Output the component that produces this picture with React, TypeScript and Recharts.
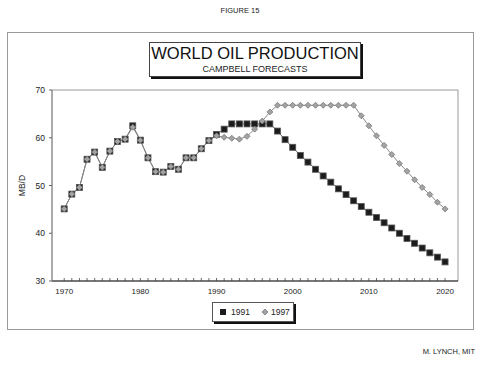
import { LineChart, Line, XAxis, YAxis, ReferenceArea, Legend } from 'recharts';

// years along the x axis
const years = [
    1970, 1971, 1972, 1973, 1974, 1975, 1976, 1977, 1978, 1979,
    1980, 1981, 1982, 1983, 1984, 1985, 1986, 1987, 1988, 1989,
    1990, 1991, 1992, 1993, 1994, 1995, 1996, 1997, 1998, 1999,
    2000, 2001, 2002, 2003, 2004, 2005, 2006, 2007, 2008, 2009,
    2010, 2011, 2012, 2013, 2014, 2015, 2016, 2017, 2018, 2019,
    2020,
];

// Campbell 1991 forecast (MB/D)
const prod1991 = [
    45.1, 48.2, 49.6, 55.5, 57.0, 53.8, 57.2, 59.2, 59.7, 62.5,
    59.5, 55.8, 52.9, 52.8, 54.0, 53.4, 55.8, 55.8, 57.7, 59.4,
    60.7, 61.8, 62.9, 62.9, 62.9, 62.9, 62.9, 62.9, 61.4, 59.6,
    58.0, 56.3, 54.9, 53.4, 52.0, 50.7, 49.3, 48.1, 46.8, 45.6,
    44.4, 43.3, 42.2, 41.1, 40.0, 38.9, 37.9, 36.9, 35.9, 35.0,
    34.0,
];

// Campbell 1997 forecast (MB/D)
const prod1997 = [
    45.1, 48.2, 49.6, 55.5, 57.0, 53.8, 57.2, 59.2, 59.7, 62.2,
    59.5, 55.8, 52.9, 52.8, 54.0, 53.4, 55.8, 55.8, 57.7, 59.4,
    60.4, 60.1, 59.9, 59.7, 60.3, 61.8, 63.5, 65.4, 66.8, 66.8,
    66.8, 66.8, 66.8, 66.8, 66.8, 66.8, 66.8, 66.8, 66.8, 64.6,
    62.5, 60.4, 58.4, 56.5, 54.6, 53.0, 51.2, 49.6, 48.1, 46.5,
    45.1,
];

const yTicks = [30, 40, 50, 60, 70];
const labelYears = [1970, 1980, 1990, 2000, 2010, 2020];
const seriesNames = ['1991', '1997'];

const data = years.map((year, i) => ({ year, y1991: prod1991[i], y1997: prod1997[i] }));

const FONT = '"Liberation Sans", Arial, sans-serif';
const X_DOMAIN: [number, number] = [1968.4, 2021.7];

const SquareDot = (props: any) => {
    const { cx, cy } = props;
    if (cx == null || cy == null) return <g />;
    return <rect x={cx - 3} y={cy - 3} width={6} height={6} fill="#1c1c1c" stroke="#555" strokeWidth={0.8} />;
};

const DiamondDot = (props: any) => {
    const { cx, cy } = props;
    if (cx == null || cy == null) return <g />;
    const r = 3;
    return (
        <polygon
            points={`${cx},${cy - r} ${cx + r},${cy} ${cx},${cy + r} ${cx - r},${cy}`}
            fill="#a3a3a3"
            stroke="#7a7a7a"
            strokeWidth={0.8}
        />
    );
};

const YearTick = (props: any) => {
    const { x, y, payload } = props;
    const yr = payload.value;
    return (
        <g>
            <line x1={x} y1={y} x2={x} y2={y - 3} stroke="#444" strokeWidth={0.8} />
            {labelYears.includes(yr) && (
                <text x={x} y={y + 13} textAnchor="middle" fontSize={8} fill="#222" fontFamily={FONT}>
                    {yr}
                </text>
            )}
        </g>
    );
};

const MbdLabel = (props: any) => {
    const vb = props.viewBox ?? { x: 0, y: 90, width: 52, height: 191 };
    const cx = vb.x + 25;
    const cy = vb.y + vb.height / 2;
    return (
        <text x={cx} y={cy} transform={`rotate(-90, ${cx}, ${cy})`} textAnchor="middle" fontSize={8.5} fill="#222" fontFamily={FONT}>
            MB/D
        </text>
    );
};

const LegendBox = () => (
    <div
        style={{
            width: 82,
            height: 20,
            boxSizing: 'border-box',
            border: '1px solid #555',
            boxShadow: '2px 2px 0 #111',
            background: '#fff',
            display: 'flex',
            alignItems: 'center',
            fontFamily: FONT,
            fontSize: 8.5,
            color: '#222',
        }}
    >
        <svg width={14} height={18} style={{ marginLeft: 4 }}>
            <rect x={3} y={6} width={6} height={6} fill="#1c1c1c" />
        </svg>
        <span style={{ marginRight: 11 }}>{seriesNames[0]}</span>
        <svg width={10} height={18}>
            <polygon points="4,6 7,9 4,12 1,9" fill="#a3a3a3" stroke="#7a7a7a" strokeWidth={0.8} />
        </svg>
        <span>{seriesNames[1]}</span>
    </div>
);

export default function App() {
    return (
        <div style={{ position: 'absolute', left: 0, top: 0, width: 500, height: 369, background: '#fff' }}>
            <svg width={500} height={369} style={{ position: 'absolute', left: 0, top: 0 }}>
                <text x={240} y={13} textAnchor="middle" fontSize={7.5} fill="#222" fontFamily={FONT}>FIGURE 15</text>
                <rect x={7.5} y={32.5} width={466} height={297} fill="none" stroke="#999" strokeWidth={1} />
                <rect x={151} y={44} width={212} height={35} fill="#111" />
                <rect x={149.5} y={42.5} width={211} height={34} fill="#fff" stroke="#444" strokeWidth={1} />
                <text x={255} y={59} textAnchor="middle" fontSize={16.5} fill="#111" fontFamily={FONT}>WORLD OIL PRODUCTION</text>
                <text x={255} y={71.5} textAnchor="middle" fontSize={9} fill="#222" fontFamily={FONT}>CAMPBELL FORECASTS</text>
                <text x={475} y={354} textAnchor="end" fontSize={7.5} fill="#222" fontFamily={FONT}>M. LYNCH, MIT</text>
            </svg>
            <div style={{ position: 'absolute', left: 0, top: 0 }}>
                <LineChart width={500} height={369} data={data} margin={{ top: 90, right: 42, bottom: 68, left: 0 }}>
                    <ReferenceArea x1={X_DOMAIN[0]} x2={X_DOMAIN[1]} y1={30} y2={70} fill="none" stroke="#999" strokeWidth={1} ifOverflow="visible" />
                    <XAxis
                        dataKey="year"
                        type="number"
                        domain={X_DOMAIN}
                        ticks={years}
                        interval={0}
                        height={20}
                        tickSize={0}
                        tickMargin={0}
                        tickLine={false}
                        axisLine={{ stroke: '#222', strokeWidth: 1 }}
                        tick={<YearTick />}
                    />
                    <YAxis
                        type="number"
                        domain={[30, 70]}
                        ticks={yTicks}
                        width={52}
                        tickSize={3}
                        tickMargin={4}
                        axisLine={{ stroke: '#888' }}
                        tickLine={{ stroke: '#666' }}
                        tick={{ fontSize: 8.5, fill: '#222', fontFamily: FONT }}
                        label={<MbdLabel />}
                    />
                    <Legend
                        layout="vertical"
                        align="center"
                        verticalAlign="middle"
                        content={<LegendBox />}
                        wrapperStyle={{ left: 212, top: 302, width: 84, height: 22 }}
                    />
                    <Line
                        type="linear"
                        dataKey="y1991"
                        name={seriesNames[0]}
                        stroke="#666"
                        strokeWidth={1}
                        dot={<SquareDot />}
                        activeDot={false}
                        isAnimationActive={false}
                    />
                    <Line
                        type="linear"
                        dataKey="y1997"
                        name={seriesNames[1]}
                        stroke="#888"
                        strokeWidth={1}
                        dot={<DiamondDot />}
                        activeDot={false}
                        isAnimationActive={false}
                    />
                </LineChart>
            </div>
        </div>
    );
}
